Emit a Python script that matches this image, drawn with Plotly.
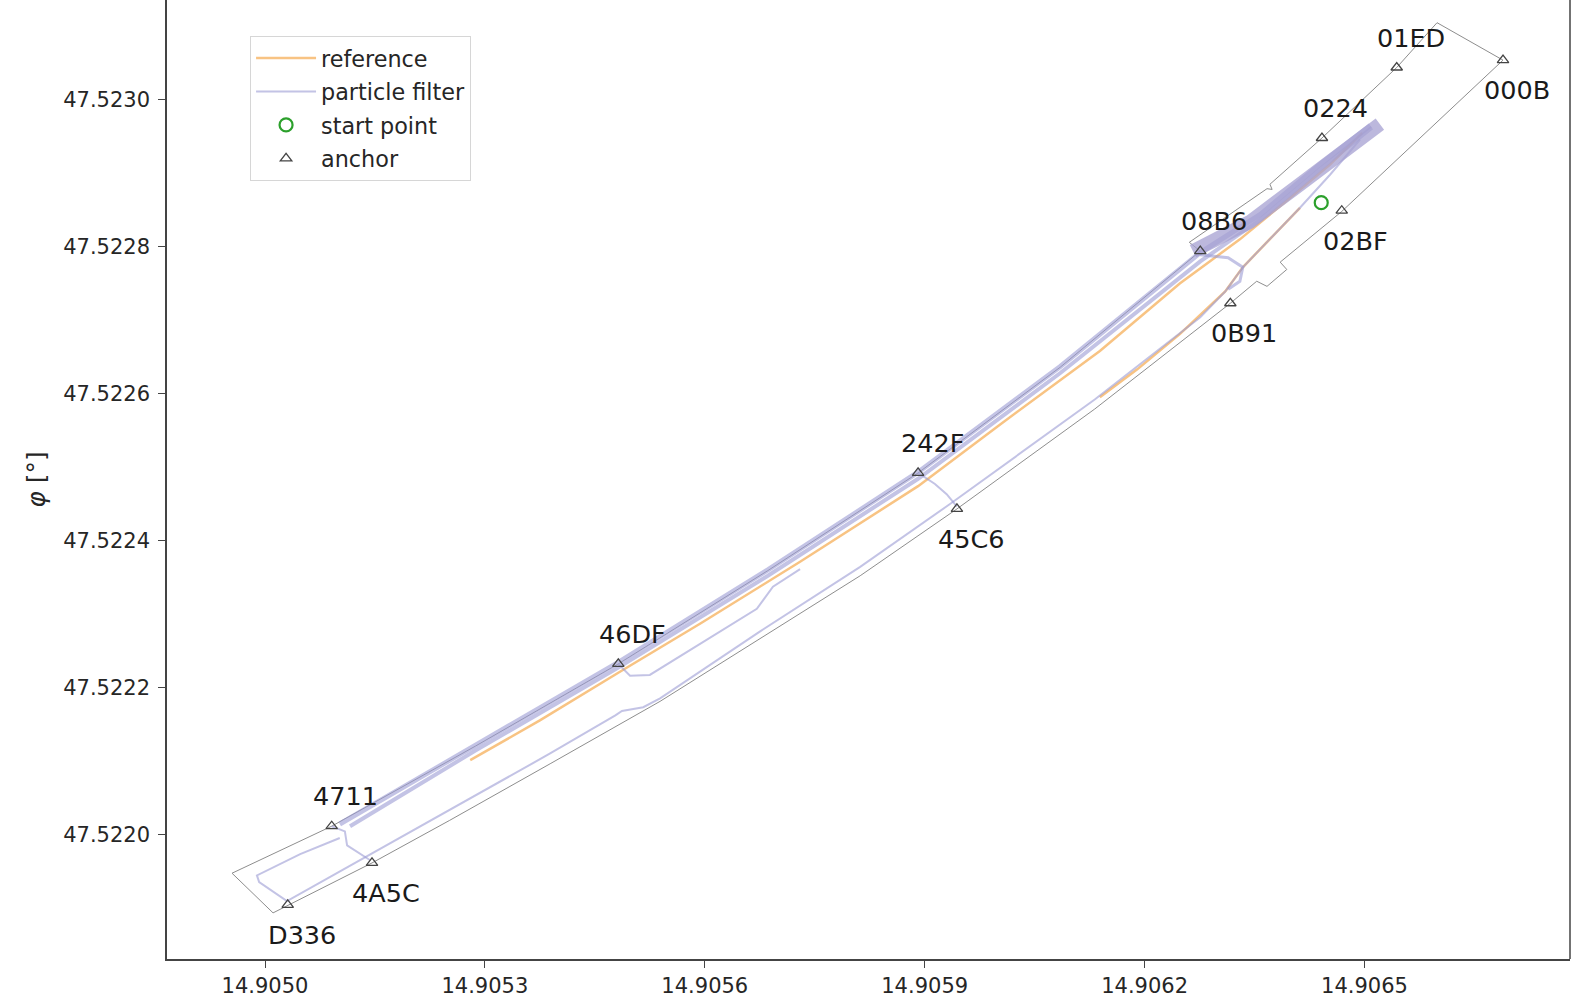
import plotly.graph_objects as go

# ---------------- data (longitude λ, latitude φ in degrees) ----------------
outline_lon = [14.904955, 14.905091, 14.905287, 14.905482, 14.905686, 14.905891, 14.906085,
               14.906276, 14.906261, 14.906367, 14.906374, 14.906371, 14.906442, 14.906544,
               14.906599, 14.906689, 14.906469, 14.906385, 14.906394, 14.906367, 14.906353,
               14.906317, 14.906132, 14.905944, 14.905812, 14.905675, 14.905539, 14.905389,
               14.905252, 14.905146, 14.905031, 14.905011, 14.904955]
outline_lat = [47.521947, 47.522011, 47.522120, 47.522232, 47.522359, 47.522492, 47.522636,
               47.522794, 47.522806, 47.522879, 47.522878, 47.522885, 47.522948, 47.523044,
               47.523105, 47.523054, 47.522848, 47.522779, 47.522769, 47.522746, 47.522753,
               47.522723, 47.522579, 47.522443, 47.522352, 47.522266, 47.522181, 47.522096,
               47.522019, 47.521961, 47.521904, 47.521893, 47.521947]

ref_main_lon = [14.905280, 14.905375, 14.905482, 14.905594, 14.905730, 14.905891, 14.906003,
                14.906139, 14.906248, 14.906330, 14.906398, 14.906453, 14.906497]
ref_main_lat = [47.522101, 47.522155, 47.522220, 47.522287, 47.522371, 47.522474, 47.522558,
                47.522658, 47.522750, 47.522810, 47.522866, 47.522912, 47.522955]
ref_low_lon = [14.906139, 14.906190, 14.906248, 14.906310, 14.906334, 14.906371, 14.906412]
ref_low_lat = [47.522595, 47.522633, 47.522681, 47.522739, 47.522772, 47.522810, 47.522853]

pf_a_lon = [14.905102, 14.905287, 14.905482, 14.905686, 14.905891, 14.906085, 14.906276,
            14.906358, 14.906439, 14.906508]
pf_a_lat = [47.522014, 47.522122, 47.522234, 47.522360, 47.522493, 47.522637, 47.522792,
            47.522844, 47.522912, 47.522965]
pf_b_lon = [14.905116, 14.905287, 14.905482, 14.905686, 14.905891, 14.906085, 14.906276,
            14.906358, 14.906439, 14.906510]
pf_b_lat = [47.522011, 47.522114, 47.522227, 47.522352, 47.522484, 47.522628, 47.522780,
            47.522837, 47.522905, 47.522962]
pf_46df_lon = [14.905482, 14.905498, 14.905525, 14.905671, 14.905693, 14.905730]
pf_46df_lat = [47.522232, 47.522216, 47.522217, 47.522307, 47.522337, 47.522361]
pf_242f_lon = [14.905891, 14.905914, 14.905930, 14.905944]
pf_242f_lat = [47.522492, 47.522477, 47.522463, 47.522446]
pf_low_lon = [14.905102, 14.905048, 14.904989, 14.904992, 14.905030, 14.905139, 14.905252,
              14.905389, 14.905478, 14.905487, 14.905516, 14.905539, 14.905675, 14.905812,
              14.905935, 14.906132, 14.906276, 14.906310, 14.906334, 14.906371, 14.906412,
              14.906453, 14.906494]
pf_low_lat = [47.521995, 47.521973, 47.521944, 47.521935, 47.521909, 47.521970, 47.522033,
              47.522110, 47.522162, 47.522168, 47.522173, 47.522185, 47.522276, 47.522364,
              47.522450, 47.522592, 47.522704, 47.522739, 47.522772, 47.522810, 47.522853,
              47.522898, 47.522946]
pf_y_lon = [14.905091, 14.905109, 14.905112, 14.905134, 14.905143]
pf_y_lat = [47.522011, 47.522004, 47.521985, 47.521971, 47.521965]
pf_08b6_lon = [14.906276, 14.906314, 14.906334, 14.906330, 14.906314]
pf_08b6_lat = [47.522789, 47.522785, 47.522772, 47.522753, 47.522742]
pf_blob_lon = [14.906266, 14.906344, 14.906412, 14.906467, 14.906521]
pf_blob_lat = [47.522794, 47.522834, 47.522885, 47.522929, 47.522967]

start_lon = [14.906441]
start_lat = [47.522860]

anchor_names = ["D336", "4A5C", "4711", "46DF", "242F", "45C6", "0B91", "08B6", "02BF",
                "0224", "01ED", "000B"]
anchor_lon = [14.905031, 14.905146, 14.905091, 14.905482, 14.905891, 14.905944, 14.906317,
              14.906276, 14.906469, 14.906442, 14.906544, 14.906689]
anchor_lat = [47.521904, 47.521961, 47.522011, 47.522232, 47.522492, 47.522443, 47.522723,
              47.522794, 47.522849, 47.522948, 47.523044, 47.523054]
anchor_label_side = ["below", "below", "above", "above", "above", "below", "below", "above",
                     "below", "above", "above", "below"]

x_ticks = [14.9050, 14.9053, 14.9056, 14.9059, 14.9062, 14.9065]
y_ticks = [47.5220, 47.5222, 47.5224, 47.5226, 47.5228, 47.5230]
x_range = [14.9048663, 14.9067804]
y_range = [47.5218302, 47.5231359]

# ---------------- styles ----------------
FONT = "DejaVu Sans"
OUTLINE_C = "rgba(135,135,135,0.95)"
REF_C = "rgba(246,180,100,0.8)"
PF_C = "rgba(155,155,212,0.6)"
PF_BLOB_C = "rgba(165,160,210,0.75)"

fig = go.Figure()

fig.add_trace(go.Scatter(x=outline_lon, y=outline_lat, mode="lines",
                         line=dict(color=OUTLINE_C, width=1), showlegend=False,
                         hoverinfo="skip"))

for i, (lx, ly) in enumerate([(ref_main_lon, ref_main_lat), (ref_low_lon, ref_low_lat)]):
    fig.add_trace(go.Scatter(x=lx, y=ly, mode="lines", name="reference",
                             legendgroup="ref", showlegend=(i == 0), legendrank=1,
                             line=dict(color=REF_C, width=2.5)))

pf_sets = [(pf_low_lon, pf_low_lat, 2, PF_C), (pf_y_lon, pf_y_lat, 2, PF_C),
           (pf_46df_lon, pf_46df_lat, 2, PF_C), (pf_242f_lon, pf_242f_lat, 2, PF_C),
           (pf_08b6_lon, pf_08b6_lat, 3, PF_C), (pf_a_lon, pf_a_lat, 5, PF_C),
           (pf_b_lon, pf_b_lat, 4, PF_C), (pf_blob_lon, pf_blob_lat, 14, PF_BLOB_C)]
first = True
for lx, ly, w, c in pf_sets:
    fig.add_trace(go.Scatter(x=lx, y=ly, mode="lines", name="particle filter",
                             legendgroup="pf", showlegend=first, legendrank=2,
                             line=dict(color=c, width=w)))
    first = False

fig.add_trace(go.Scatter(x=start_lon, y=start_lat, mode="markers", name="start point",
                         legendgroup="start", legendrank=3,
                         marker=dict(symbol="circle-open", size=13, color="#2ca02c",
                                     line=dict(width=2.2, color="#2ca02c"))))

fig.add_trace(go.Scatter(x=anchor_lon, y=anchor_lat, mode="markers", name="anchor",
                         legendgroup="anchor", legendrank=4, text=anchor_names,
                         marker=dict(symbol="triangle-up-open", size=10, color="#444",
                                     line=dict(width=1.3, color="#444"))))

for name, lx, ly, side in zip(anchor_names, anchor_lon, anchor_lat, anchor_label_side):
    fig.add_annotation(x=lx, y=ly, text=name, showarrow=False, xshift=14,
                       yshift=30 if side == "above" else -30,
                       font=dict(family=FONT, size=25.5, color="#1a1a1a"))

axis_common = dict(showline=True, linecolor="#444", linewidth=1.5, ticks="outside",
                   ticklen=7, tickwidth=1.2, tickcolor="#444", showgrid=False,
                   zeroline=False, tickformat=".4f",
                   tickfont=dict(family=FONT, size=21, color="#262626"))

fig.update_xaxes(range=x_range, tickvals=x_ticks, **axis_common)
fig.update_yaxes(range=y_range, tickvals=y_ticks, ticklabelstandoff=4,
                 title=dict(text="<i>φ</i> [°]", standoff=10,
                            font=dict(family=FONT, size=25, color="#262626")),
                 **axis_common)

fig.add_shape(type="line", xref="paper", yref="paper", x0=1, x1=1, y0=0, y1=1,
              line=dict(color="#444", width=1.5))

fig.update_layout(
    width=1578, height=998, autosize=False,
    margin=dict(l=167, r=8, t=0, b=37),
    plot_bgcolor="white", paper_bgcolor="white",
    font=dict(family=FONT, color="#262626"),
    legend=dict(x=0.0592, y=0.9625, xanchor="left", yanchor="top",
                bgcolor="rgba(255,255,255,0.85)", bordercolor="#d6d6d6", borderwidth=1,
                font=dict(family=FONT, size=22.3, color="#262626"),
                traceorder="grouped", tracegroupgap=1.5, itemwidth=60),
    showlegend=True,
)

fig.write_html("out.html", config={"displayModeBar": False},
               post_script="document.body.style.margin='0';document.body.style.overflow='hidden';")
